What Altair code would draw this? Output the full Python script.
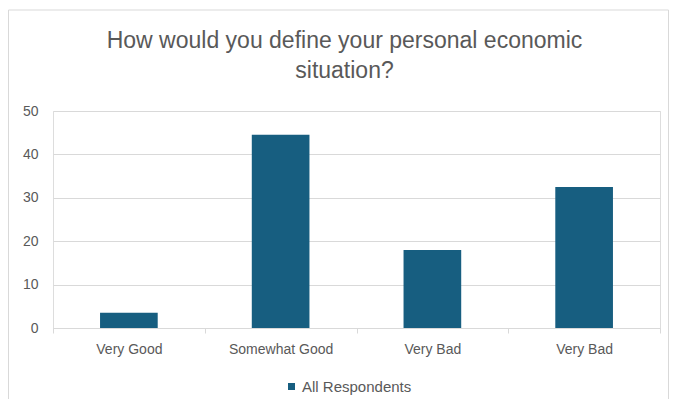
import json
import altair as alt
import pandas as pd

# ---- data ----
categories = ["Very Good", "Somewhat Good", "Very Bad", "Very Bad"]
values = [3.5, 44.5, 18.0, 32.5]
series_name = "All Respondents"
y_ticks = [0, 10, 20, 30, 40, 50]
title_lines = ["How would you define your personal economic", "situation?"]

BAR = "#175E80"
TXT = "#595959"
GRID = "#D9D9D9"
FONT = "Liberation Sans"

df = pd.DataFrame({
    "pos": list(range(len(categories))),
    "label": categories,
    "value": values,
    "series": [series_name] * len(categories),
})

label_expr = json.dumps(categories) + "[datum.value]"

bars = alt.Chart(df).mark_bar(width=alt.RelativeBandSize(0.38)).encode(
    x=alt.X(
        "pos:N",
        sort=None,
        scale=alt.Scale(paddingInner=0, paddingOuter=0),
        axis=alt.Axis(
            title=None,
            labelExpr=label_expr,
            labelAngle=0,
            labelFont=FONT,
            labelFontSize=14,
            labelColor=TXT,
            labelPadding=9,
            domainColor=GRID,
            domainWidth=1,
            tickColor=GRID,
            tickSize=5,
            tickBand="extent",
            grid=False,
        ),
    ),
    y=alt.Y(
        "value:Q",
        scale=alt.Scale(domain=[0, 50], nice=False),
        axis=alt.Axis(
            title=None,
            values=y_ticks,
            labelFont=FONT,
            labelFontSize=14,
            labelColor=TXT,
            labelPadding=15,
            domain=False,
            ticks=False,
            gridColor=GRID,
            gridWidth=1,
        ),
    ),
    color=alt.Color(
        "series:N",
        scale=alt.Scale(domain=[series_name], range=[BAR]),
        legend=alt.Legend(
            title=None,
            orient="none",
            legendX=231,
            legendY=268,
            symbolType="square",
            symbolSize=49,
            symbolStrokeWidth=0,
            labelFont=FONT,
            labelFontSize=15,
            labelColor=TXT,
            labelOffset=3,
        ),
    ),
)

frame = alt.Chart(pd.DataFrame({"k": [0]})).mark_rect(
    fill=None, stroke=GRID, strokeWidth=1, clip=False
).encode(
    x=alt.value(-44.5), x2=alt.value(615.5), y=alt.value(-101), y2=alt.value(320)
)

chart = alt.layer(frame, bars).properties(
    width=607,
    height=217,
    padding={"left": 45, "top": 103, "right": 10, "bottom": 71},
    autosize=alt.AutoSizeParams(type="none"),
    title=alt.TitleParams(
        text=title_lines,
        anchor="middle",
        frame="group",
        font=FONT,
        fontSize=23,
        fontWeight="normal",
        color=TXT,
        lineHeight=30,
        offset=-73,
        dx=-12,
    ),
).configure_view(stroke=None).configure(background="white")

chart.save("out.html", embed_options={"renderer": "svg", "actions": False})
